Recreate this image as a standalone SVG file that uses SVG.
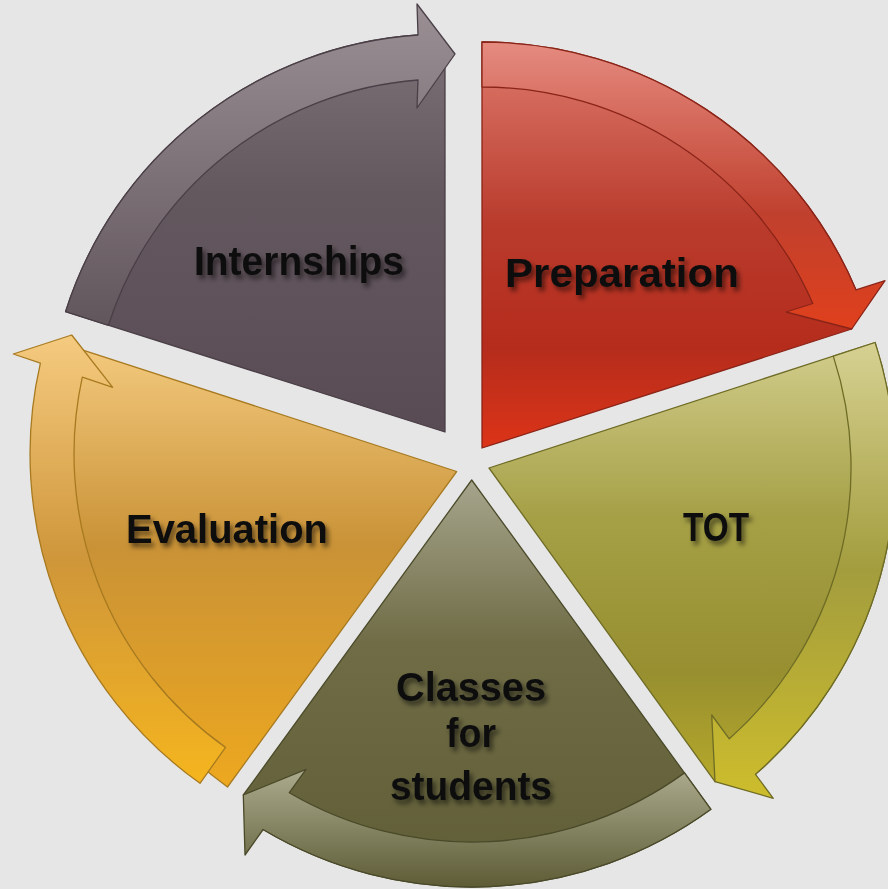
<svg xmlns="http://www.w3.org/2000/svg" width="888" height="889" viewBox="0 0 888 889">
  <defs>
    <style>
      .lbl { font-family: "Liberation Sans", Arial, sans-serif; font-weight: bold; font-size: 41px; fill: #111; text-anchor: middle; filter: url(#tshadow); }
      .sw { stroke-width: 1.3; stroke-linejoin: round; }
    </style>
    <filter id="tshadow" x="-20%" y="-40%" width="140%" height="180%">
      <feDropShadow dx="3" dy="4" stdDeviation="2.4" flood-color="#000" flood-opacity="0.55"/>
    </filter>
    <linearGradient id="gIs" x1="0" y1="0" x2="0" y2="1">
      <stop offset="0" stop-color="#7c7177"/><stop offset="0.4" stop-color="#64585f"/><stop offset="1" stop-color="#594b54"/>
    </linearGradient>
    <linearGradient id="gIb" x1="0" y1="0" x2="0" y2="1">
      <stop offset="0" stop-color="#9a9094"/><stop offset="1" stop-color="#62565d"/>
    </linearGradient>
    <linearGradient id="gPs" x1="0" y1="0" x2="0" y2="1">
      <stop offset="0" stop-color="#de7b6e"/><stop offset="0.45" stop-color="#b93b2c"/><stop offset="0.75" stop-color="#b52c1c"/><stop offset="1" stop-color="#dc3418"/>
    </linearGradient>
    <linearGradient id="gPb" x1="0" y1="0" x2="0" y2="1">
      <stop offset="0" stop-color="#e58b80"/><stop offset="0.6" stop-color="#c0402e"/><stop offset="1" stop-color="#e0401c"/>
    </linearGradient>
    <linearGradient id="gTs" x1="0" y1="0" x2="0" y2="1">
      <stop offset="0" stop-color="#d2cd8c"/><stop offset="0.4" stop-color="#a5a046"/><stop offset="0.75" stop-color="#978f30"/><stop offset="1" stop-color="#b5a82a"/>
    </linearGradient>
    <linearGradient id="gTb" x1="0" y1="0" x2="0" y2="1">
      <stop offset="0" stop-color="#d6d192"/><stop offset="0.5" stop-color="#a39d3e"/><stop offset="1" stop-color="#cdbd2c"/>
    </linearGradient>
    <linearGradient id="gCs" x1="0" y1="0" x2="0" y2="1">
      <stop offset="0" stop-color="#a6a58c"/><stop offset="0.4" stop-color="#6f6c46"/><stop offset="1" stop-color="#5f5d36"/>
    </linearGradient>
    <linearGradient id="gCb" x1="0" y1="0" x2="0" y2="1">
      <stop offset="0" stop-color="#acab8e"/><stop offset="1" stop-color="#5d5c36"/>
    </linearGradient>
    <linearGradient id="gEs" x1="0" y1="0" x2="0" y2="1">
      <stop offset="0" stop-color="#f2c87c"/><stop offset="0.45" stop-color="#c99236"/><stop offset="1" stop-color="#eda81f"/>
    </linearGradient>
    <linearGradient id="gEb" x1="0" y1="0" x2="0" y2="1">
      <stop offset="0" stop-color="#f5cb80"/><stop offset="0.5" stop-color="#cf963a"/><stop offset="1" stop-color="#f5b51e"/>
    </linearGradient>
  </defs>

  <rect width="888" height="889" fill="#e6e6e6"/>

  <g id="internships">
    <path class="sw" fill="url(#gIs)" stroke="#4a3f46" d="M445,432 L65.6,311.6 A398,398 0 0 1 418,35 L445,68 Z"/>
    <path class="sw" fill="url(#gIb)" stroke="#4a3f46" d="M65.6,311.6 A398,398 0 0 1 418,35 L417,4 L455,54 L417,108 L418,80 A353,353 0 0 0 108.5,325.3 Z"/>
    <text class="lbl" x="299" y="275" textLength="210" lengthAdjust="spacingAndGlyphs">Internships</text>
  </g>

  <g id="preparation">
    <path class="sw" fill="url(#gPs)" stroke="#8a2418" d="M482,448 L482,42 A406,406 0 0 1 856,289.9 L851.7,329 Z"/>
    <path class="sw" fill="url(#gPb)" stroke="#8a2418" d="M482,42 A406,406 0 0 1 856,289.9 L885,280.7 L851.7,329 L786,312 L812.8,303.5 A361,361 0 0 0 482,87 Z"/>
    <text class="lbl" x="622" y="287" textLength="234" lengthAdjust="spacingAndGlyphs">Preparation</text>
  </g>

  <g id="tot">
    <path class="sw" fill="url(#gTs)" stroke="#6e6b25" d="M489,468 L875.1,342.5 A406,406 0 0 1 755.5,774.3 L715,781.7 Z"/>
    <path class="sw" fill="url(#gTb)" stroke="#6e6b25" d="M875.1,342.5 A406,406 0 0 1 755.5,774.3 L773.3,798.3 L715,781.7 L711.7,715 L729.3,738.8 A362,362 0 0 0 833.3,356.1 Z"/>
    <text class="lbl" x="716" y="541" textLength="66" lengthAdjust="spacingAndGlyphs">TOT</text>
  </g>

  <g id="classes">
    <path class="sw" fill="url(#gCs)" stroke="#4a4a2a" d="M471.7,480 L710.9,809.3 A407,407 0 0 1 263.1,829.5 L243.3,795 Z"/>
    <path class="sw" fill="url(#gCb)" stroke="#4a4a2a" d="M710.9,809.3 A407,407 0 0 1 263.1,829.5 L245,855 L243.3,795 L306,769.3 L289.3,792.7 A362,362 0 0 0 684.5,772.9 Z"/>
    <text class="lbl" x="471" y="701" textLength="150" lengthAdjust="spacingAndGlyphs">Classes</text>
    <text class="lbl" x="471" y="747" textLength="50" lengthAdjust="spacingAndGlyphs">for</text>
    <text class="lbl" x="471" y="800" textLength="162" lengthAdjust="spacingAndGlyphs">students</text>
  </g>

  <g id="evaluation">
    <path class="sw" fill="url(#gEs)" stroke="#a87a20" d="M456.7,471.5 L227.5,787 A390,390 0 0 1 80,370.6 L83.7,350.3 Z"/>
    <path class="sw" fill="url(#gEb)" stroke="#a87a20" d="M200,783.3 A404,404 0 0 1 40.4,363.1 L13.3,354 L71.7,335 L112.7,387.3 L82.3,377.1 A360,360 0 0 0 225.5,747.4 Z"/>
    <text class="lbl" x="227" y="543" textLength="202" lengthAdjust="spacingAndGlyphs">Evaluation</text>
  </g>
</svg>
